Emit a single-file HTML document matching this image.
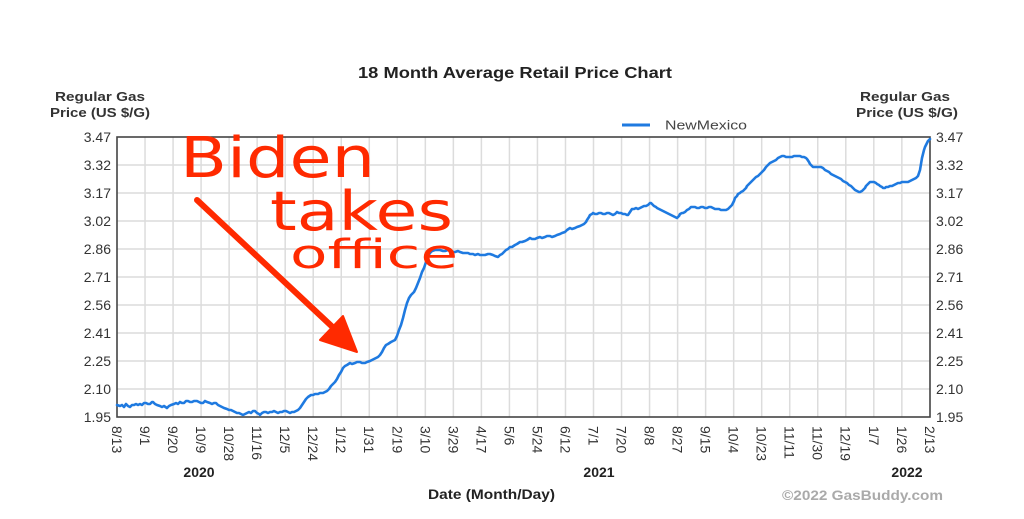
<!DOCTYPE html>
<html>
<head>
<meta charset="utf-8">
<style>
html,body{margin:0;padding:0;background:#fff;}
svg{display:block;}
text{font-family:"Liberation Sans",Arial,sans-serif;}
</style>
</head>
<body>
<svg width="1024" height="519" viewBox="0 0 1024 519" xmlns="http://www.w3.org/2000/svg">
<rect x="0" y="0" width="1024" height="519" fill="#fff"/>

<!-- Title -->
<text x="358" y="78" font-size="16" font-weight="bold" fill="#222" textLength="314" lengthAdjust="spacingAndGlyphs">18 Month Average Retail Price Chart</text>

<!-- Axis titles -->
<g font-size="13" font-weight="bold" fill="#333" text-anchor="middle">
<text x="100" y="101" textLength="90" lengthAdjust="spacingAndGlyphs">Regular Gas</text>
<text x="100" y="117" textLength="100" lengthAdjust="spacingAndGlyphs">Price (US $/G)</text>
<text x="905" y="101" textLength="90" lengthAdjust="spacingAndGlyphs">Regular Gas</text>
<text x="907" y="117" textLength="102" lengthAdjust="spacingAndGlyphs">Price (US $/G)</text>
</g>

<!-- Legend -->
<line x1="622" y1="125" x2="650" y2="125" stroke="#1f7ae0" stroke-width="3"/>
<text x="665" y="129.5" font-size="13" fill="#444" textLength="82" lengthAdjust="spacingAndGlyphs">NewMexico</text>

<!-- Grid -->
<g stroke="#dcdcdc" stroke-width="1.5">
<line x1="145.03" y1="137" x2="145.03" y2="417"/><line x1="173.06" y1="137" x2="173.06" y2="417"/><line x1="201.09" y1="137" x2="201.09" y2="417"/><line x1="229.12" y1="137" x2="229.12" y2="417"/><line x1="257.15" y1="137" x2="257.15" y2="417"/><line x1="285.18" y1="137" x2="285.18" y2="417"/><line x1="313.21" y1="137" x2="313.21" y2="417"/><line x1="341.24" y1="137" x2="341.24" y2="417"/><line x1="369.27" y1="137" x2="369.27" y2="417"/><line x1="397.3" y1="137" x2="397.3" y2="417"/><line x1="425.33" y1="137" x2="425.33" y2="417"/><line x1="453.36" y1="137" x2="453.36" y2="417"/><line x1="481.39" y1="137" x2="481.39" y2="417"/><line x1="509.42" y1="137" x2="509.42" y2="417"/><line x1="537.45" y1="137" x2="537.45" y2="417"/><line x1="565.48" y1="137" x2="565.48" y2="417"/><line x1="593.51" y1="137" x2="593.51" y2="417"/><line x1="621.54" y1="137" x2="621.54" y2="417"/><line x1="649.57" y1="137" x2="649.57" y2="417"/><line x1="677.6" y1="137" x2="677.6" y2="417"/><line x1="705.63" y1="137" x2="705.63" y2="417"/><line x1="733.66" y1="137" x2="733.66" y2="417"/><line x1="761.69" y1="137" x2="761.69" y2="417"/><line x1="789.72" y1="137" x2="789.72" y2="417"/><line x1="817.75" y1="137" x2="817.75" y2="417"/><line x1="845.78" y1="137" x2="845.78" y2="417"/><line x1="873.81" y1="137" x2="873.81" y2="417"/><line x1="901.84" y1="137" x2="901.84" y2="417"/>
<line x1="117" y1="165" x2="930" y2="165"/><line x1="117" y1="193" x2="930" y2="193"/><line x1="117" y1="221" x2="930" y2="221"/><line x1="117" y1="249" x2="930" y2="249"/><line x1="117" y1="277" x2="930" y2="277"/><line x1="117" y1="305" x2="930" y2="305"/><line x1="117" y1="333" x2="930" y2="333"/><line x1="117" y1="361" x2="930" y2="361"/><line x1="117" y1="389" x2="930" y2="389"/>
</g>
<rect x="117" y="137" width="813" height="280" fill="none" stroke="#444" stroke-width="1.6"/>

<!-- Y tick labels -->
<g font-size="14" fill="#333" text-anchor="end">
<text x="111" y="142">3.47</text><text x="111" y="170">3.32</text><text x="111" y="198">3.17</text><text x="111" y="226">3.02</text><text x="111" y="254">2.86</text><text x="111" y="282">2.71</text><text x="111" y="310">2.56</text><text x="111" y="338">2.41</text><text x="111" y="366">2.25</text><text x="111" y="394">2.10</text><text x="111" y="422">1.95</text>
</g>
<g font-size="14" fill="#333" text-anchor="start">
<text x="936" y="142">3.47</text><text x="936" y="170">3.32</text><text x="936" y="198">3.17</text><text x="936" y="226">3.02</text><text x="936" y="254">2.86</text><text x="936" y="282">2.71</text><text x="936" y="310">2.56</text><text x="936" y="338">2.41</text><text x="936" y="366">2.25</text><text x="936" y="394">2.10</text><text x="936" y="422">1.95</text>
</g>

<!-- X tick labels (rotated) -->
<g font-size="14" fill="#333">
<text transform="translate(117,426) rotate(90)" dy="0.36em">8/13</text>
<text transform="translate(145.03,426) rotate(90)" dy="0.36em">9/1</text>
<text transform="translate(173.06,426) rotate(90)" dy="0.36em">9/20</text>
<text transform="translate(201.09,426) rotate(90)" dy="0.36em">10/9</text>
<text transform="translate(229.12,426) rotate(90)" dy="0.36em">10/28</text>
<text transform="translate(257.15,426) rotate(90)" dy="0.36em">11/16</text>
<text transform="translate(285.18,426) rotate(90)" dy="0.36em">12/5</text>
<text transform="translate(313.21,426) rotate(90)" dy="0.36em">12/24</text>
<text transform="translate(341.24,426) rotate(90)" dy="0.36em">1/12</text>
<text transform="translate(369.27,426) rotate(90)" dy="0.36em">1/31</text>
<text transform="translate(397.3,426) rotate(90)" dy="0.36em">2/19</text>
<text transform="translate(425.33,426) rotate(90)" dy="0.36em">3/10</text>
<text transform="translate(453.36,426) rotate(90)" dy="0.36em">3/29</text>
<text transform="translate(481.39,426) rotate(90)" dy="0.36em">4/17</text>
<text transform="translate(509.42,426) rotate(90)" dy="0.36em">5/6</text>
<text transform="translate(537.45,426) rotate(90)" dy="0.36em">5/24</text>
<text transform="translate(565.48,426) rotate(90)" dy="0.36em">6/12</text>
<text transform="translate(593.51,426) rotate(90)" dy="0.36em">7/1</text>
<text transform="translate(621.54,426) rotate(90)" dy="0.36em">7/20</text>
<text transform="translate(649.57,426) rotate(90)" dy="0.36em">8/8</text>
<text transform="translate(677.6,426) rotate(90)" dy="0.36em">8/27</text>
<text transform="translate(705.63,426) rotate(90)" dy="0.36em">9/15</text>
<text transform="translate(733.66,426) rotate(90)" dy="0.36em">10/4</text>
<text transform="translate(761.69,426) rotate(90)" dy="0.36em">10/23</text>
<text transform="translate(789.72,426) rotate(90)" dy="0.36em">11/11</text>
<text transform="translate(817.75,426) rotate(90)" dy="0.36em">11/30</text>
<text transform="translate(845.78,426) rotate(90)" dy="0.36em">12/19</text>
<text transform="translate(873.81,426) rotate(90)" dy="0.36em">1/7</text>
<text transform="translate(901.84,426) rotate(90)" dy="0.36em">1/26</text>
<text transform="translate(929.87,426) rotate(90)" dy="0.36em">2/13</text>
</g>

<!-- Year labels & axis title -->
<g font-size="14" font-weight="bold" fill="#222" text-anchor="middle">
<text x="199" y="477">2020</text>
<text x="599" y="477">2021</text>
<text x="907" y="477">2022</text>
</g>
<text x="428" y="499" font-size="14" font-weight="bold" fill="#222" textLength="127" lengthAdjust="spacingAndGlyphs">Date (Month/Day)</text>
<text x="782" y="500" font-size="14" font-weight="bold" fill="#aaaaaa" textLength="161" lengthAdjust="spacingAndGlyphs">©2022 GasBuddy.com</text>

<!-- Series -->
<polyline fill="none" stroke="#1f7ae0" stroke-width="2.6" stroke-linejoin="round" stroke-linecap="round" points="117,405 120,406 122,405 124,407 126,404 128,406 130,407 132,405 134,405 136,404 138,405 140,404 142,405 144,403 146,403 148,404 150,404 152,402 153,402 155,404 157,405 160,406 162,407 164,406 167,408 169,406 171,405 174,404 176,403 178,404 180,402 182,403 184,403 186,401 188,401 190,402 192,402 194,401 197,401 199,402 201,403 203,403 205,401 207,402 210,403 212,404 214,403 216,403 218,405 220,406 222,407 224,408 227,409 229,410 231,410 233,411 235,412 237,413 239,413 241,414 243,415 245,414 247,413 249,412 251,413 253,411 255,411 257,413 259,414 260,415 262,413 264,412 266,412 268,413 270,412 272,412 274,411 276,412 278,413 280,412 282,412 284,411 286,411 288,412 290,413 292,412 294,412 296,411 298,410 300,408 302,405 304,402 306,399 308,397 311,395 313,395 315,394 318,394 320,393 323,393 325,392 327,391 329,389 331,386 333,384 335,382 337,379 339,375 341,372 343,368 345,366 347,365 350,363 352,364 355,363 357,362 360,362 362,363 365,363 367,362 370,361 372,360 374,359 376,358 378,357 380,355 382,352 384,348 386,345 388,344 391,342 393,341 395,340 397,336 399,330 401,325 403,318 405,310 407,303 409,298 411,295 414,292 416,288 418,283 420,278 422,272 424,268 426,262 428,256 430,253 432,251 435,250 438,250 440,250 443,251 445,251 448,250 450,251 453,252 455,252 458,251 460,252 463,253 465,253 468,253 470,254 473,254 475,255 478,254 480,255 483,255 485,255 488,254 490,254 493,255 495,256 498,257 500,255 502,254 504,252 506,250 508,249 510,247 512,247 515,245 517,244 520,242 522,242 525,241 527,240 530,238 532,239 535,239 537,238 540,237 542,238 545,237 547,236 550,236 552,237 555,236 557,235 560,234 562,233 565,232 567,230 570,228 572,229 575,228 577,227 580,226 582,225 584,224 586,222 587,220 589,217 590,215 592,214 593,213 595,214 597,214 599,213 601,213 603,214 605,214 607,213 609,213 611,214 613,215 615,214 617,212 619,213 621,213 623,214 625,214 627,215 628,215 630,212 632,209 634,209 636,208 638,209 640,208 642,207 644,206 646,206 648,205 650,203 651,203 653,205 654,206 656,207 657,208 659,209 661,210 663,211 665,212 667,213 669,214 671,215 673,216 675,217 677,218 679,216 680,214 682,213 683,213 685,212 687,210 689,209 691,207 693,207 695,207 697,208 699,208 701,207 703,207 705,208 707,208 709,207 711,207 713,208 715,209 717,209 719,209 721,210 722,210 724,210 726,210 728,209 729,208 731,206 732,205 734,201 735,198 737,196 738,194 740,193 741,192 743,191 744,190 746,188 747,186 749,184 750,183 752,181 753,180 755,178 756,177 758,176 760,174 762,172 764,170 766,167 768,165 770,163 772,162 774,161 776,160 778,158 780,157 782,156 784,156 786,157 788,157 790,157 792,157 794,156 796,156 798,156 800,156 802,157 804,157 806,158 807,159 809,162 810,164 812,166 813,167 815,167 817,167 819,167 821,167 823,168 825,170 827,171 829,172 831,174 833,175 835,176 837,177 839,178 841,179 843,181 845,182 847,183 849,185 851,186 853,188 855,190 857,191 859,192 860,192 862,191 863,190 865,188 866,186 868,184 870,182 872,182 874,182 876,183 877,184 879,185 880,186 882,187 883,188 885,188 886,187 888,187 890,186 892,186 894,185 896,184 898,183 900,183 902,182 904,182 906,182 908,182 910,181 912,180 914,179 916,178 918,176 919,173 920,170 921,164 922,158 923,154 924,150 925,147 926,145 927,143 928,141 929,140 930,139"/>

<!-- Red annotation -->
<g fill="#ff2a00">
<text x="180" y="177" font-size="56" textLength="195" lengthAdjust="spacingAndGlyphs" style="font-family:'DejaVu Sans','Liberation Sans',sans-serif">Biden</text>
<text x="270" y="230" font-size="54" textLength="183" lengthAdjust="spacingAndGlyphs" style="font-family:'DejaVu Sans','Liberation Sans',sans-serif">takes</text>
<text x="290" y="268" font-size="40" textLength="168" lengthAdjust="spacingAndGlyphs" style="font-family:'DejaVu Sans','Liberation Sans',sans-serif">office</text>
</g>
<line x1="197" y1="200" x2="340" y2="334" stroke="#ff2a00" stroke-width="6" stroke-linecap="round"/>
<polygon points="320,340 343,316 357,352" fill="#ff2a00" stroke="#ff2a00" stroke-width="2" stroke-linejoin="round"/>
</svg>
</body>
</html>
